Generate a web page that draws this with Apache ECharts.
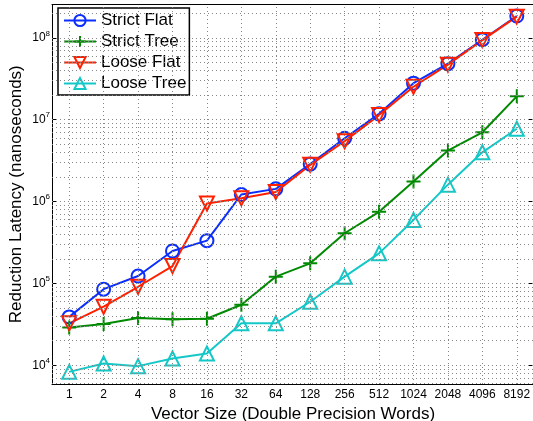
<!DOCTYPE html>
<html>
<head>
<meta charset="utf-8">
<script src="https://cdn.jsdelivr.net/npm/echarts@6/dist/echarts.min.js"></script>
<style>html,body{margin:0;padding:0;background:#fff}#c{width:533px;height:421px}</style>
</head>
<body>
<div id="c"></div>
<script>
var categories = ['1','2','4','8','16','32','64','128','256','512','1024','2048','4096','8192'];
var strictFlat = [39000, 85000, 123000, 249000, 333000, 1220000, 1430000, 2870000, 5940000, 11800000, 28000000, 48500000, 95000000, 185000000];
var strictTree = [29000, 31900, 37700, 36400, 37000, 54800, 121000, 176000, 410000, 750000, 1760000, 4200000, 7030000, 19300000];
var looseFlat = [32500, 51900, 91000, 163000, 950000, 1100000, 1310000, 2810000, 5460000, 11400000, 25300000, 47100000, 94000000, 182000000];
var looseTree = [8300, 10500, 9750, 12100, 13900, 32500, 32500, 59700, 121000, 233000, 597000, 1610000, 4000000, 7760000];
var seriesNames = ['Strict Flat','Strict Tree','Loose Flat','Loose Tree'];
var yMin = 5900, yMax = 256000000;

var FONT = 'Liberation Sans';
var blue = '#0a2eff', green = '#008a00', red = '#ff2000', cyan = '#14c8c8';

var gridLines = [];
for (var k = 3; k <= 8; k++) {
  for (var m = 1; m <= 9; m++) {
    var v = m * Math.pow(10, k);
    if (v > yMin && v < yMax) gridLines.push({yAxis: v});
  }
}
for (var i = 0; i < categories.length; i++) gridLines.push({xAxis: i});

var plus = 'path://M0,-10L0,10M-10,0L10,0';

function mk(name, data, color, symbol, size, rot) {
  return {
    name: name, type: 'line', data: data, symbol: symbol, symbolSize: size,
    symbolRotate: rot || 0, z: 3,
    lineStyle: {color: color, width: 2},
    itemStyle: {color: 'transparent', borderColor: color, borderWidth: 2},
    emphasis: {disabled: true}, animation: false
  };
}

var labelFmt = function (v) {
  var e = Math.round(Math.log10(v));
  return '{b|10}{s|' + e + '}';
};

var chart = echarts.init(document.getElementById('c'), null, {renderer: 'canvas'});
chart.setOption({
  animation: false,
  backgroundColor: '#fff',
  textStyle: {fontFamily: FONT},
  grid: {left: 52, top: 4.5, width: 482, height: 379.5, containLabel: false, outerBoundsMode: 'none'},
  legend: {
    data: seriesNames, orient: 'vertical', left: 58, top: 8,
    padding: [4, 3, 3, 5], itemGap: 4, itemWidth: 32, itemHeight: 14,
    backgroundColor: '#fff', borderColor: '#000', borderWidth: 1.5,
    textStyle: {fontSize: 17, color: '#000', fontFamily: FONT, lineHeight: 17}
  },
  xAxis: [{
    type: 'category', data: categories, boundaryGap: true, position: 'bottom',
    axisLine: {lineStyle: {color: '#000', width: 1}},
    axisTick: {inside: true, length: 5, alignWithLabel: true, lineStyle: {color: '#000'}},
    axisLabel: {fontSize: 12, color: '#000', margin: 5, interval: 0, fontFamily: FONT},
    splitLine: {show: false},
    name: 'Vector Size (Double Precision Words)', nameLocation: 'middle', nameGap: 17,
    nameTextStyle: {fontSize: 17, color: '#000', fontFamily: FONT}
  }, {
    type: 'category', data: categories, boundaryGap: true, position: 'top',
    axisLine: {lineStyle: {color: '#000', width: 1}},
    axisTick: {inside: true, length: 5, alignWithLabel: true, lineStyle: {color: '#000'}},
    axisLabel: {show: false}, splitLine: {show: false}
  }],
  yAxis: [{
    type: 'log', logBase: 10, min: yMin, max: yMax, position: 'left',
    axisLine: {show: true, lineStyle: {color: '#000', width: 1}},
    axisTick: {show: true, inside: true, length: 5, lineStyle: {color: '#000'}},
    axisLabel: {formatter: labelFmt, showMinLabel: false, showMaxLabel: false, margin: 2, color: '#000',
      rich: {b: {fontSize: 12, fontFamily: FONT, color: '#000'}, s: {fontSize: 8, fontFamily: FONT, color: '#000', padding: [0, 0, 9, 0]}}},
    splitLine: {show: false},
    name: 'Reduction Latency (nanoseconds)', nameLocation: 'middle', nameGap: 27, nameMoveOverlap: false,
    nameTextStyle: {fontSize: 17, color: '#000', fontFamily: FONT}
  }, {
    type: 'log', logBase: 10, min: yMin, max: yMax, position: 'right',
    axisLine: {show: true, lineStyle: {color: '#000', width: 1}},
    axisTick: {show: true, inside: true, length: 5, lineStyle: {color: '#000'}},
    axisLabel: {show: false}, splitLine: {show: false}
  }],
  series: [
    {
      name: 'grid', type: 'line', data: [], z: 1, silent: true, animation: false,
      markLine: {
        silent: true, symbol: ['none', 'none'], label: {show: false}, animation: false,
        lineStyle: {color: '#888', width: 1, type: [1, 3]},
        emphasis: {disabled: true},
        data: gridLines
      }
    },
    mk('Strict Flat', strictFlat, blue, 'circle', 13),
    mk('Strict Tree', strictTree, green, plus, 14),
    mk('Loose Flat', looseFlat, red, 'triangle', 14, 180),
    mk('Loose Tree', looseTree, cyan, 'triangle', 14)
  ]
});
</script>
</body>
</html>
